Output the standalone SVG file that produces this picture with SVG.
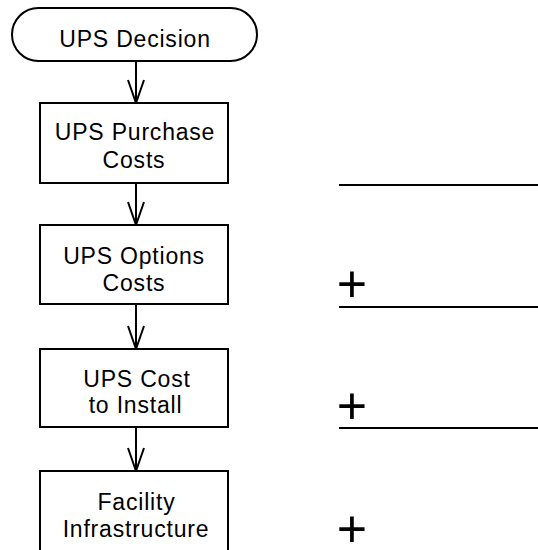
<svg xmlns="http://www.w3.org/2000/svg" width="538" height="550" viewBox="0 0 538 550">
<style>
.shape{fill:#fff;stroke:#000;stroke-width:2}
.lbl{font-family:"Liberation Sans",Arial,sans-serif;font-size:23px;letter-spacing:0.8px;fill:#000;text-anchor:middle}
.conn{stroke:#000;stroke-width:2;fill:none}
.rule{stroke:#000;stroke-width:2}
.plus{font-family:"Liberation Sans",Arial,sans-serif;font-size:52px;fill:#000;text-anchor:middle}
</style>
<defs>
<marker id="arr" markerUnits="userSpaceOnUse" orient="auto" refX="0" refY="0" markerWidth="30" markerHeight="20" viewBox="-25 -10 30 20" overflow="visible">
<path d="M-23,-8 L0,0 L-23,8" fill="none" stroke="#000" stroke-width="2"/>
</marker>
</defs>
<rect width="538" height="550" fill="#fff"/>
<g id="connectors">
<line class="conn" x1="136" y1="61" x2="136" y2="103" marker-end="url(#arr)"/>
<line class="conn" x1="136" y1="183" x2="136" y2="225" marker-end="url(#arr)"/>
<line class="conn" x1="136" y1="304" x2="136" y2="349" marker-end="url(#arr)"/>
<line class="conn" x1="136" y1="427" x2="136" y2="471" marker-end="url(#arr)"/>
</g>
<g id="n-decision">
<rect class="shape" x="12" y="8" width="245" height="53" rx="26.5" ry="26.5"/>
<text class="lbl" x="135" y="47">UPS Decision</text>
</g>
<g id="n-purchase">
<rect class="shape" x="40" y="103" width="188" height="80"/>
<text class="lbl" x="135" y="140">UPS Purchase</text>
<text class="lbl" x="134" y="168">Costs</text>
</g>
<g id="n-options">
<rect class="shape" x="40" y="225" width="188" height="79"/>
<text class="lbl" x="134" y="264">UPS Options</text>
<text class="lbl" x="134" y="291">Costs</text>
</g>
<g id="n-install">
<rect class="shape" x="40" y="349" width="188" height="78"/>
<text class="lbl" x="137" y="387">UPS Cost</text>
<text class="lbl" x="135.5" y="413">to Install</text>
</g>
<g id="n-facility">
<rect class="shape" x="40" y="471" width="188" height="100"/>
<text class="lbl" x="136.5" y="510">Facility</text>
<text class="lbl" x="136" y="537">Infrastructure</text>
</g>
<g id="sum-column">
<line class="rule" x1="339" y1="185" x2="538" y2="185"/>
<line class="rule" x1="339" y1="307" x2="538" y2="307"/>
<line class="rule" x1="339" y1="428" x2="538" y2="428"/>
<text class="plus" x="352" y="302">+</text>
<text class="plus" x="352" y="424">+</text>
<text class="plus" x="352" y="547">+</text>
</g>
</svg>
